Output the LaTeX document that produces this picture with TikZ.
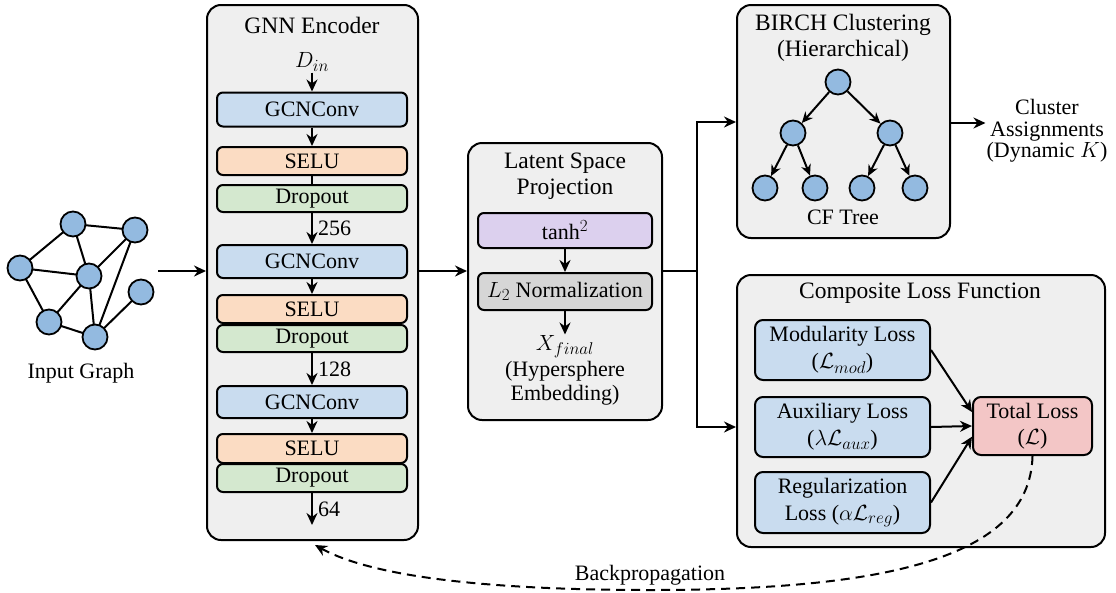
\documentclass[tikz,border=0pt]{standalone}
\usepackage{fix-cm}
\usepackage{fontspec}
\setmainfont{Liberation Serif}
\DeclareMathSizes{22}{22}{17}{13}
\usetikzlibrary{arrows.meta,backgrounds}

\definecolor{panelgray}{HTML}{EFEFEF}
\definecolor{convblue}{HTML}{C9DCEF}
\definecolor{selupeach}{HTML}{FBDCC3}
\definecolor{dropgreen}{HTML}{D4E8CF}
\definecolor{tanhpurple}{HTML}{DCD0EE}
\definecolor{normgray}{HTML}{D6D6D6}
\definecolor{totalpink}{HTML}{F3C6C6}
\definecolor{nodeblue}{HTML}{93BAE0}

\tikzset{
  panel/.style={draw, line width=2pt, rounded corners=14pt, fill=panelgray, inner sep=0pt},
  layer/.style={draw, line width=2pt, rounded corners=6pt, inner sep=0pt, minimum width=190pt},
  lossbox/.style={draw, line width=2pt, rounded corners=8pt, inner sep=0pt, fill=convblue, align=center,
                  font=\fontsize{22}{27}\selectfont},
  gnode/.style={circle, draw, line width=1.8pt, fill=nodeblue, minimum size=25pt, inner sep=0pt},
  tnode/.style={circle, draw, line width=1.8pt, fill=nodeblue, minimum size=25pt, inner sep=0pt},
  arr/.style={-{Stealth[length=12pt,width=11pt]}, line width=2pt},
  link/.style={line width=2pt},
  lbl/.style={inner sep=1pt, align=center},
  title/.style={inner sep=1pt, align=center, font=\fontsize{23.5}{25.5}\selectfont},
}

\begin{document}
\begin{tikzpicture}[x=1pt, y=-1pt, font=\fontsize{22}{24}\selectfont]
\useasboundingbox (0,0) rectangle (1116,592);

% ---------- input graph ----------
\node[gnode] (g1) at (73,224) {};
\node[gnode] (g2) at (135,230) {};
\node[gnode] (g3) at (20,268) {};
\node[gnode] (g4) at (89,276) {};
\node[gnode] (g5) at (141,292) {};
\node[gnode] (g6) at (49,322) {};
\node[gnode] (g7) at (95,337) {};
\begin{scope}[on background layer]
\foreach \a/\b in {g1/g2,g1/g3,g1/g4,g3/g4,g3/g6,g4/g2,g4/g6,g4/g7,g2/g7,g6/g7,g7/g5}
  \draw[link] (\a.center) -- (\b.center);
\end{scope}
\node[lbl] (inlbl) at (81,373) {Input Graph};
\coordinate (gout) at (158,271);

% ---------- GNN encoder ----------
\node[panel, minimum width=211pt, minimum height=535pt] (enc) at (312.5,272.5) {};
\node[title] (enctitle) at (312,25) {GNN Encoder};
\node[lbl] (din) at (312,62) {$D_{in}$};

\node[layer, fill=convblue,  minimum height=34pt] (c1) at (312,109.5) {GCNConv};
\node[layer, fill=selupeach, minimum height=28pt] (s1) at (312,161) {SELU};
\node[layer, fill=dropgreen, minimum height=27pt] (d1) at (312,198.5) {Dropout};
\node[layer, fill=convblue,  minimum height=33pt] (c2) at (312,261.5) {GCNConv};
\node[layer, fill=selupeach, minimum height=28pt] (s2) at (312,309) {SELU};
\node[layer, fill=dropgreen, minimum height=27pt] (d2) at (312,338.5) {Dropout};
\node[layer, fill=convblue,  minimum height=32pt] (c3) at (312,402) {GCNConv};
\node[layer, fill=selupeach, minimum height=29pt] (s3) at (312,448.5) {SELU};
\node[layer, fill=dropgreen, minimum height=28pt] (d3) at (312,478) {Dropout};
\coordinate (encout) at (312,525);

\draw[arr] (din) -- (c1);
\draw[arr] (c1) -- (s1);
\draw[link] (s1) -- (d1);
\draw[arr] (d1) -- node[right, inner sep=5pt] {256} (c2);
\draw[arr] (c2) -- (s2);
\draw[arr] (d2) -- node[right, inner sep=5pt] {128} (c3);
\draw[arr] (c3) -- (s3);
\draw[arr] (d3) -- node[right, inner sep=5pt] {64} (encout);

\coordinate (row) at (0,271);
\draw[arr] (gout) -- (enc.west |- row);

% ---------- latent space projection ----------
\node[panel, minimum width=194pt, minimum height=277pt] (lat) at (565,281.5) {};
\node[title] (lattitle) at (565,176) {Latent Space\\Projection};
\node[layer, fill=tanhpurple, minimum width=174pt, minimum height=35pt] (tanh) at (565,230.5) {tanh$^{2}$};
\node[layer, fill=normgray, minimum width=174pt, minimum height=37pt] (norm) at (565,291.5) {$L_2$ Normalization};
\node[lbl] (xf) at (565,347) {$X_{final}$};
\node[lbl] (emb) at (565,383) {(Hypersphere\\Embedding)};
\draw[arr] (tanh) -- (norm);
\draw[arr] (norm) -- (xf);

\draw[arr] (enc.east |- row) -- (lat.west |- row);

% ---------- BIRCH clustering ----------
\node[panel, minimum width=213pt, minimum height=233pt] (birch) at (843.5,121.5) {};
\node[title] (birchtitle) at (843,38) {BIRCH Clustering\\[1pt](Hierarchical)};
\node[tnode] (r)  at (838,82) {};
\node[tnode] (m1) at (793,133) {};
\node[tnode] (m2) at (890,133) {};
\node[tnode] (l1) at (765,188) {};
\node[tnode] (l2) at (815,188) {};
\node[tnode] (l3) at (862,188) {};
\node[tnode] (l4) at (915,188) {};
\foreach \a/\b in {r/m1,r/m2,m1/l1,m1/l2,m2/l3,m2/l4}
  \draw[line width=2pt, -{Stealth[length=11pt,width=10pt]}] (\a) -- (\b);
\node[lbl] (cf) at (843,217) {CF Tree};

\node[lbl, font=\fontsize{22}{21.5}\selectfont] (clust) at (1047,131) {Cluster\\Assignments\\(Dynamic $K$)};
\coordinate (crow) at (0,123);
\draw[arr] (birch.east |- crow) -- (clust.west |- crow);

% ---------- composite loss ----------
\node[panel, minimum width=368pt, minimum height=272pt] (loss) at (921,411) {};
\node[title] (losstitle) at (920,293) {Composite Loss Function};
\node[lossbox, minimum width=175pt, minimum height=60pt] (mod) at (842.5,350) {Modularity Loss\\($\mathcal{L}_{mod}$)};
\node[lossbox, minimum width=175pt, minimum height=60pt] (aux) at (842.5,427) {Auxiliary Loss\\($\lambda\mathcal{L}_{aux}$)};
\node[lossbox, minimum width=175pt, minimum height=61pt] (reg) at (842.5,502.5) {Regularization\\Loss ($\alpha\mathcal{L}_{reg}$)};
\node[lossbox, fill=totalpink, minimum width=119pt, minimum height=58pt, font=\fontsize{22}{25.5}\selectfont] (total) at (1032.5,426) {Total Loss\\($\mathcal{L}$)};
\draw[arr] (mod.east) -- (total.167);
\draw[arr] (aux.east) -- (total.west);
\draw[arr] (reg.east) -- (total.190);

% ---------- branching from the latent space ----------
\coordinate (split) at (697,271);
\draw[link] (lat.east |- row) -- (split);
\draw[arr] (split) |- (birch.west |- 0,122);
\draw[arr] (split) |- (loss.west |- 0,427);

% ---------- backpropagation ----------
\coordinate (bpend) at (315,545);
\draw[arr, dash pattern=on 9pt off 6pt]
  (total.south) .. controls (1030,560) and (880,590) .. (650,590)
                .. controls (450,590) and (360,570) .. (bpend);
\node[lbl] (bp) at (650,575) {Backpropagation};

\end{tikzpicture}
\end{document}
